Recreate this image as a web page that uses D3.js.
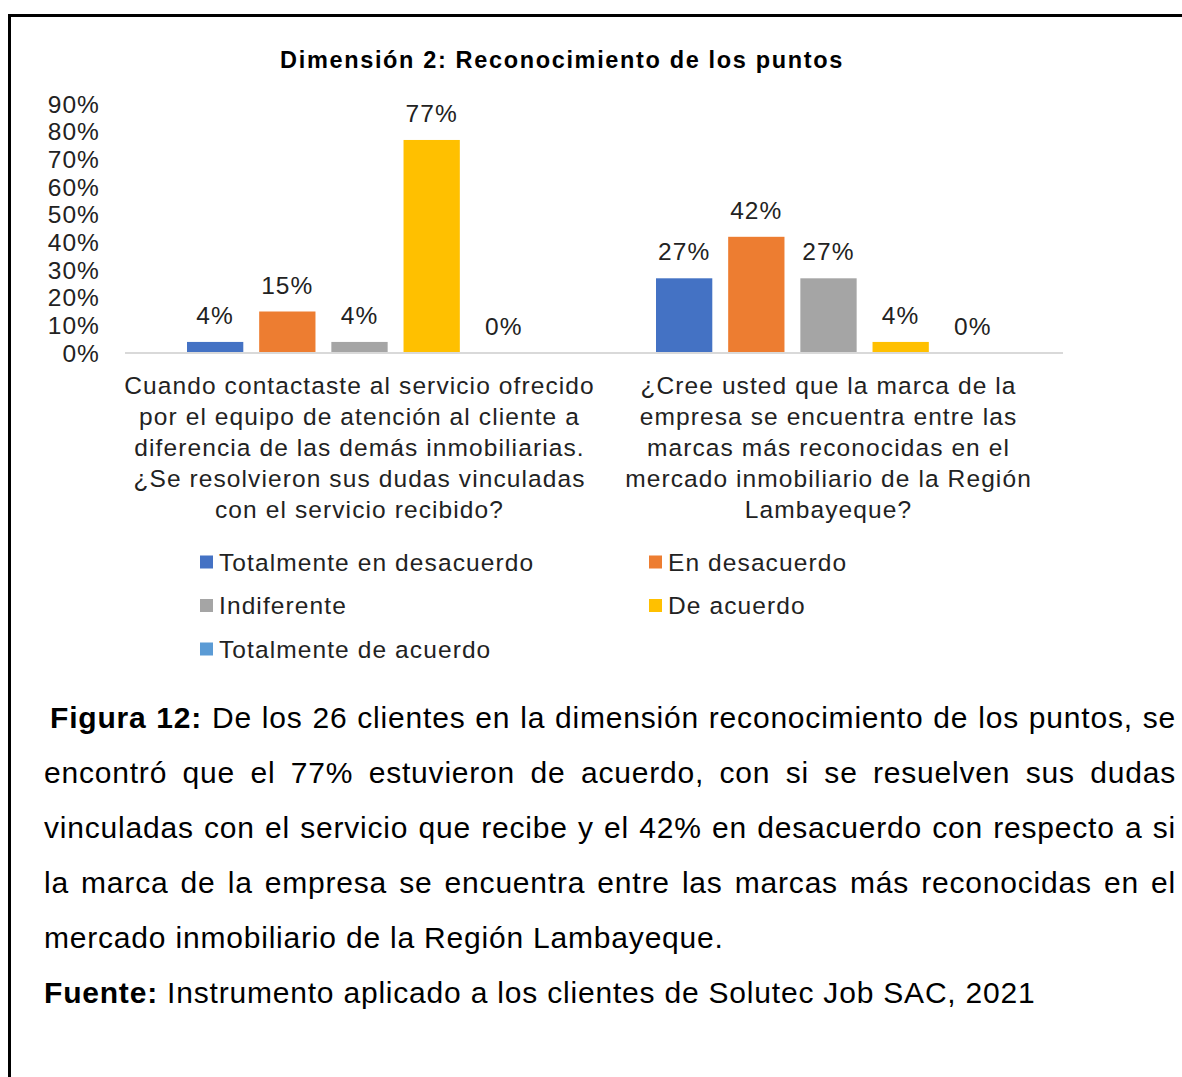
<!DOCTYPE html>
<html>
<head>
<meta charset="utf-8">
<script src="https://cdn.jsdelivr.net/npm/d3@7"></script>
<style>
  body { margin: 0; background: #fff; font-family: "Liberation Sans", Arial, sans-serif; }
  #wrap { position: relative; width: 1182px; height: 1077px; overflow: hidden; }
  #frame { position: absolute; left: 8px; top: 14px; width: 1300px; height: 1200px;
           border-left: 3px solid #000; border-top: 3px solid #000; box-sizing: border-box; }
  #chart { position: absolute; left: 0; top: 0; }
  #caption { position: absolute; left: 44px; top: 690px; width: 1132px; font-size: 30px;
             letter-spacing: 0.8px; color: #000; }
  #caption div { text-align: justify; text-align-last: justify; line-height: 55px; white-space: nowrap; }
  #caption div.last { text-align-last: left; }
  svg text { letter-spacing: 1.1px; }
</style>
</head>
<body>
<div id="wrap">
  <div id="frame"></div>
  <div id="chart"></div>
  <div id="caption"></div>
</div>
<script>
// Data
var categories = [
    ["Cuando contactaste al servicio ofrecido", "por el equipo de atención al cliente a",
     "diferencia de las demás inmobiliarias.", "¿Se resolvieron sus dudas vinculadas",
     "con el servicio recibido?"],
    ["¿Cree usted que la marca de la", "empresa se encuentra entre las",
     "marcas más reconocidas en el", "mercado inmobiliario de la Región",
     "Lambayeque?"]
];
var seriesNames = ["Totalmente en desacuerdo", "En desacuerdo", "Indiferente", "De acuerdo", "Totalmente de acuerdo"];
var seriesColors = ["#4472C4", "#ED7D31", "#A5A5A5", "#FFC000", "#5B9BD5"];
var values = [
    [0.04, 0.15, 0.04, 0.77, 0.00],
    [0.27, 0.42, 0.27, 0.04, 0.00]
];
var yTicks = [0, 0.1, 0.2, 0.3, 0.4, 0.5, 0.6, 0.7, 0.8, 0.9];

var captionLines = [
    "De los 26 clientes en la dimensión reconocimiento de los puntos, se",
    "encontró que el 77% estuvieron de acuerdo, con si se resuelven sus dudas",
    "vinculadas con el servicio que recibe y el 42% en desacuerdo con respecto a si",
    "la marca de la empresa se encuentra entre las marcas más reconocidas en el",
    "mercado inmobiliario de la Región Lambayeque."
];
var sourceText = "Instrumento aplicado a los clientes de Solutec Job SAC, 2021";

// Dimensions
var margin = { top: 104, left: 125 },
    width = 938,
    height = 249;

var svg = d3.select("#chart").append("svg")
    .attr("width", 1182)
    .attr("height", 690)
    .style("font-family", "'Liberation Sans', Arial, sans-serif");

var g = svg.append("g")
    .attr("transform", "translate(" + margin.left + "," + margin.top + ")");

// Scales
var x0 = d3.scaleBand()
    .domain(d3.range(categories.length))
    .range([0, width]);
var x1 = d3.scaleBand()
    .domain(d3.range(seriesNames.length))
    .range([62, x0.bandwidth() - 62])
    .paddingInner(0.22);
var y = d3.scaleLinear()
    .domain([0, 0.9])
    .range([height, 0]);

// Title
svg.append("text")
    .attr("x", 562)
    .attr("y", 68)
    .attr("text-anchor", "middle")
    .style("font-weight", "bold")
    .style("font-size", "23.5px")
    .style("letter-spacing", "1.65px")
    .text("Dimensión 2: Reconocimiento de los puntos");

// Y axis labels
g.selectAll(".ytick")
    .data(yTicks)
    .enter().append("text")
    .attr("class", "ytick")
    .attr("x", -25)
    .attr("y", function (d) { return y(d); })
    .attr("dy", "0.35em")
    .attr("text-anchor", "end")
    .style("font-size", "24.5px")
    .style("fill", "#222")
    .text(function (d) { return Math.round(d * 100) + "%"; });

// Bars
var groups = g.selectAll(".grp")
    .data(values)
    .enter().append("g")
    .attr("class", "grp")
    .attr("transform", function (d, i) { return "translate(" + x0(i) + ",0)"; });

groups.selectAll("rect")
    .data(function (d) { return d; })
    .enter().append("rect")
    .attr("x", function (d, j) { return x1(j); })
    .attr("width", x1.bandwidth())
    .attr("y", function (d) { return y(d); })
    .attr("height", function (d) { return height - y(d); })
    .attr("fill", function (d, j) { return seriesColors[j]; });

groups.selectAll(".lbl")
    .data(function (d) { return d; })
    .enter().append("text")
    .attr("class", "lbl")
    .attr("x", function (d, j) { return x1(j) + x1.bandwidth() / 2; })
    .attr("y", function (d) { return y(d) - 18; })
    .attr("text-anchor", "middle")
    .style("font-size", "24.5px")
    .style("fill", "#222")
    .text(function (d) { return Math.round(d * 100) + "%"; });

// Baseline
g.append("line")
    .attr("x1", 0).attr("x2", width)
    .attr("y1", height).attr("y2", height)
    .attr("stroke", "#D9D9D9")
    .attr("stroke-width", 2);

// Category labels
categories.forEach(function (lines, i) {
    g.selectAll(".cat" + i)
        .data(lines)
        .enter().append("text")
        .attr("x", x0(i) + x0.bandwidth() / 2)
        .attr("y", function (d, k) { return height + 41 + k * 31; })
        .attr("text-anchor", "middle")
        .style("font-size", "24.5px")
        .style("fill", "#222")
        .text(function (d) { return d; });
});

// Legend
var legend = svg.selectAll(".legend")
    .data(seriesNames)
    .enter().append("g")
    .attr("class", "legend")
    .attr("transform", function (d, i) {
        return "translate(" + (i % 2 === 0 ? 200 : 649) + "," + (562 + Math.floor(i / 2) * 43.5) + ")";
    });

legend.append("rect")
    .attr("x", 0).attr("y", -6.5)
    .attr("width", 13).attr("height", 13)
    .attr("fill", function (d, i) { return seriesColors[i]; });

legend.append("text")
    .attr("x", 19)
    .attr("y", 0)
    .attr("dy", "0.35em")
    .style("font-size", "24.5px")
    .style("fill", "#222")
    .text(function (d) { return d; });

// Caption
var cap = d3.select("#caption");
captionLines.forEach(function (line, i) {
    var div = cap.append("div");
    if (i === 0) {
        div.append("b").style("margin-left", "6px").text("Figura 12:");
        div.append("span").text(" " + line);
    } else {
        div.text(line);
    }
    if (i === captionLines.length - 1) div.attr("class", "last");
});
var src = cap.append("div").attr("class", "last");
src.append("b").text("Fuente:");
src.append("span").text(" " + sourceText);
</script>
</body>
</html>
